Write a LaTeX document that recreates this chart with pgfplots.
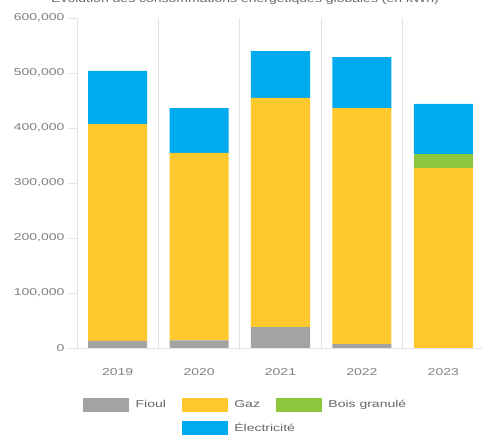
\documentclass[border=0pt]{standalone}
\usepackage{fontspec}
\setmainfont{Liberation Sans}
\usepackage{graphicx}
\usepackage{pgfplots}
\pgfplotsset{compat=1.18}
\definecolor{cfioul}{HTML}{A3A3A3}
\definecolor{cgaz}{HTML}{FFC82C}
\definecolor{cbois}{HTML}{8DC63F}
\definecolor{celec}{HTML}{00AAEE}
\definecolor{cline}{HTML}{E2E2E2}
\definecolor{ctick}{HTML}{7F7F7F}
\definecolor{ctext}{HTML}{666666}
\newcommand{\W}[1]{\scalebox{1.4}[1]{#1}}
\begin{document}
\begin{tikzpicture}
\begin{axis}[
  scale only axis,
  width=407pt, height=330pt,
  at={(0pt,0pt)}, anchor=south west,
  ybar stacked,
  bar width=59pt,
  xmin=-0.5, xmax=4.5,
  ymin=0, ymax=600000,
  xtick={0,1,2,3,4},
  xticklabels={\W{2019},\W{2020},\W{2021},\W{2022},\W{2023}},
  minor xtick={0.5,1.5,2.5,3.5,4.5},
  xminorgrids=true,
  minor grid style={draw=cline, line width=0.8pt},
  xtick style={draw=none},
  minor tick length=0pt,
  ytick={0,100000,200000,300000,400000,500000,600000},
  yticklabel={\W{\pgfmathprintnumber[fixed,precision=0,1000 sep={,},assume math mode=true]{\tick}}},
  scaled y ticks=false,
  ytick style={draw=cline, line width=0.8pt},
  major tick length=9pt,
  tick align=outside,
  axis x line*=bottom,
  axis y line*=left,
  axis line style={draw=cline, line width=0.8pt, -},
  tick label style={font=\fontsize{10}{12}\selectfont, text=ctick},
  yticklabel style={anchor=east, xshift=0pt},
  xticklabel style={anchor=north, yshift=-8pt},
  legend columns=3,
  legend style={draw=none, fill=none, at={(axis description cs:0,0)}, anchor=north west,
    xshift=3pt, yshift=-48pt, row sep=9pt,
    font=\fontsize{10}{12}\selectfont, text=ctext,
    /tikz/every odd column/.append style={column sep=5pt},
    /tikz/every even column/.append style={column sep=14pt}},
  legend cell align=left,
  clip=false,
]
\addplot[fill=cfioul, draw=none, forget plot] coordinates {(0,13000) (1,14000) (2,38000) (3,7000) (4,0)};
\addplot[fill=cgaz, draw=none, forget plot] coordinates {(0,394000) (1,341000) (2,417000) (3,429000) (4,327000)};
\addplot[fill=cbois, draw=none, forget plot] coordinates {(0,0) (1,0) (2,0) (3,0) (4,26000)};
\addplot[fill=celec, draw=none, forget plot] coordinates {(0,97000) (1,81000) (2,85000) (3,93000) (4,91000)};
\addlegendimage{legend image code/.code={\fill[cfioul] (0pt,-6.5pt) rectangle (45pt,6.5pt);}}
\addlegendentry{\W{Fioul}}
\addlegendimage{legend image code/.code={\fill[cgaz] (0pt,-6.5pt) rectangle (45pt,6.5pt);}}
\addlegendentry{\W{Gaz}}
\addlegendimage{legend image code/.code={\fill[cbois] (0pt,-6.5pt) rectangle (45pt,6.5pt);}}
\addlegendentry{\W{Bois granulé}}
\addlegendimage{empty legend}
\addlegendentry{}
\addlegendimage{legend image code/.code={\fill[celec] (0pt,-6.5pt) rectangle (45pt,6.5pt);}}
\addlegendentry{\rlap{\W{Électricité}}}
\end{axis}
\node[anchor=base, font=\fontsize{10}{12}\selectfont, text=ctext] at (168pt,345.5pt) {\W{Évolution des consommations énergétiques globales (en kWh)}};
\pgfresetboundingbox
\path[use as bounding box] (-77pt,-88pt) rectangle (405pt,348pt);
\end{tikzpicture}
\end{document}
